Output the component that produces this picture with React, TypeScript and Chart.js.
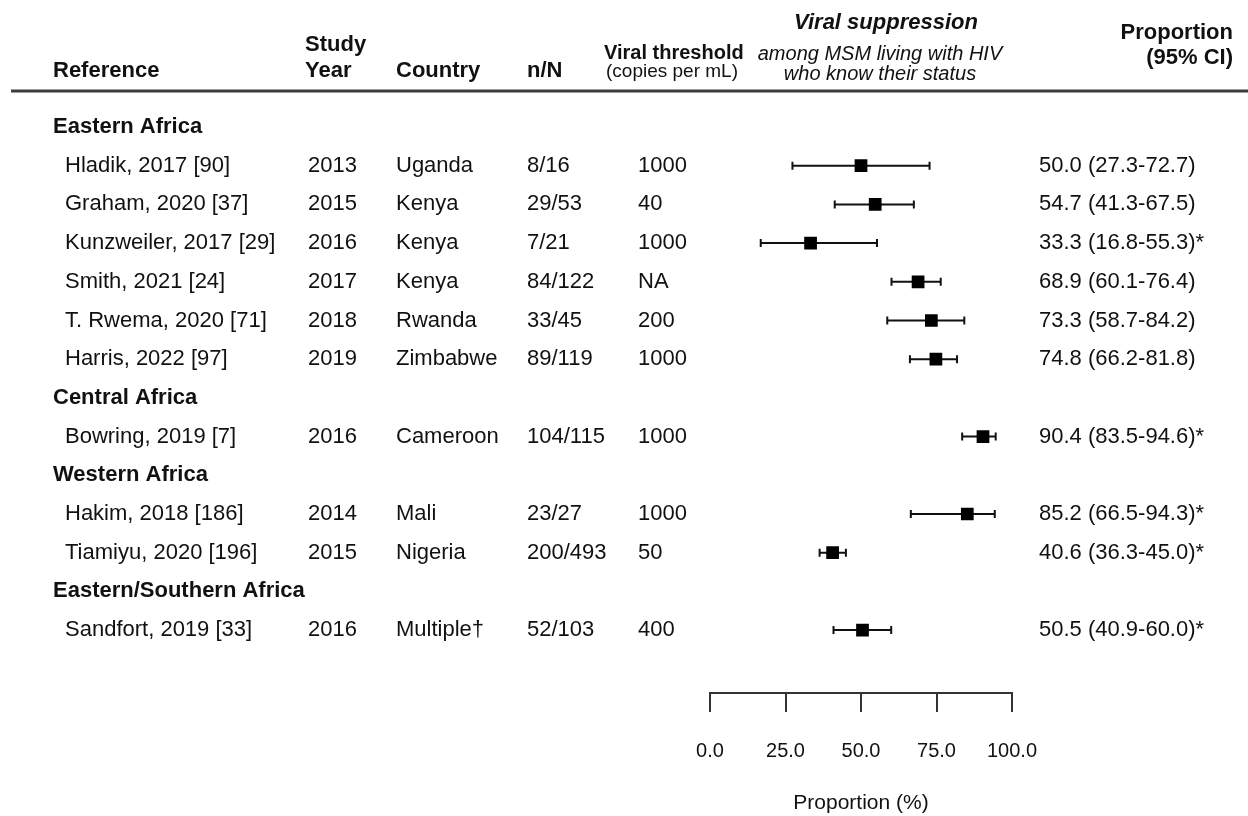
import React, { useEffect, useRef } from 'react';
import { Chart, registerables } from 'chart.js';

Chart.register(...registerables);

// ---- data ----
const groups = ['Eastern Africa', 'Central Africa', 'Western Africa', 'Eastern/Southern Africa'];
const studyGroups = [0, 0, 0, 0, 0, 0, 1, 2, 2, 3];
const references = [
  'Hladik, 2017 [90]',
  'Graham, 2020 [37]',
  'Kunzweiler, 2017 [29]',
  'Smith, 2021 [24]',
  'T. Rwema, 2020 [71]',
  'Harris, 2022 [97]',
  'Bowring, 2019 [7]',
  'Hakim, 2018 [186]',
  'Tiamiyu, 2020 [196]',
  'Sandfort, 2019 [33]',
];
const studyYears = ['2013', '2015', '2016', '2017', '2018', '2019', '2016', '2014', '2015', '2016'];
const countries = ['Uganda', 'Kenya', 'Kenya', 'Kenya', 'Rwanda', 'Zimbabwe', 'Cameroon', 'Mali', 'Nigeria', 'Multiple†'];
const nOverN = ['8/16', '29/53', '7/21', '84/122', '33/45', '89/119', '104/115', '23/27', '200/493', '52/103'];
const thresholds = ['1000', '40', '1000', 'NA', '200', '1000', '1000', '1000', '50', '400'];
const estimates = [50.0, 54.7, 33.3, 68.9, 73.3, 74.8, 90.4, 85.2, 40.6, 50.5];
const lower = [27.3, 41.3, 16.8, 60.1, 58.7, 66.2, 83.5, 66.5, 36.3, 40.9];
const upper = [72.7, 67.5, 55.3, 76.4, 84.2, 81.8, 94.6, 94.3, 45.0, 60.0];
const flags = ['', '', '*', '', '', '', '*', '*', '*', '*'];
const xTicks = [0, 25, 50, 75, 100];
const xTitle = 'Proportion (%)';

// ---- row layout (derived) ----
const rowOfGroup: number[] = [];
const rowOfStudy: number[] = [];
(() => {
  let r = 0;
  groups.forEach((_, gi) => {
    rowOfGroup[gi] = r++;
    studyGroups.forEach((sg, si) => {
      if (sg === gi) rowOfStudy[si] = r++;
    });
  });
})();

const FF = '"Liberation Sans", Arial, Helvetica, sans-serif';
const FS = 22;
const FS_SMALL = 19;
const FS_TICK = 20;
const FS_TITLE = 21;
const TEXT = '#111111';
const INK = '#111111';

const tablePlugin = {
  id: 'forestTable',
  afterDraw(chart: any) {
    const ctx: CanvasRenderingContext2D = chart.ctx;
    const ys = chart.scales.y;
    ctx.save();
    ctx.fillStyle = TEXT;
    ctx.textBaseline = 'middle';

    // header
    ctx.textAlign = 'left';
    ctx.font = `bold ${FS}px ${FF}`;
    ctx.fillText('Reference', 53, 71);
    ctx.fillText('Study', 305, 45);
    ctx.fillText('Year', 305, 71);
    ctx.fillText('Country', 396, 71);
    ctx.fillText('n/N', 527, 71);
    ctx.font = `bold 20px ${FF}`;
    ctx.fillText('Viral threshold', 604, 53);
    ctx.font = `${FS_SMALL}px ${FF}`;
    ctx.fillText('(copies per mL)', 606, 72);

    ctx.textAlign = 'center';
    ctx.font = `italic bold ${FS}px ${FF}`;
    ctx.fillText('Viral suppression', 886, 23);
    ctx.font = `italic 20px ${FF}`;
    ctx.fillText('among MSM living with HIV', 880, 54);
    ctx.fillText('who know their status', 880, 74);

    ctx.textAlign = 'right';
    ctx.font = `bold ${FS}px ${FF}`;
    ctx.fillText('Proportion', 1233, 33);
    ctx.fillText('(95% CI)', 1233, 58);

    // header rule
    ctx.strokeStyle = '#3c3c3c';
    ctx.lineWidth = 3;
    ctx.beginPath();
    ctx.moveTo(11, 91);
    ctx.lineTo(1248, 91);
    ctx.stroke();

    // group headers
    ctx.textAlign = 'left';
    ctx.font = `bold ${FS}px ${FF}`;
    groups.forEach((g, gi) => {
      ctx.fillText(g, 53, ys.getPixelForValue(rowOfGroup[gi]));
    });

    // study rows
    ctx.font = `${FS}px ${FF}`;
    references.forEach((ref, i) => {
      const y = ys.getPixelForValue(rowOfStudy[i]);
      ctx.fillText(ref, 65, y);
      ctx.fillText(studyYears[i], 308, y);
      ctx.fillText(countries[i], 396, y);
      ctx.fillText(nOverN[i], 527, y);
      ctx.fillText(thresholds[i], 638, y);
      ctx.fillText(
        `${estimates[i].toFixed(1)} (${lower[i].toFixed(1)}-${upper[i].toFixed(1)})${flags[i]}`,
        1039,
        y
      );
    });
    ctx.restore();
  },
};

export default function App() {
  const ref = useRef<HTMLCanvasElement | null>(null);

  useEffect(() => {
    document.body.style.margin = '0';
    const canvas = ref.current;
    if (!canvas) return;

    const ciDatasets = estimates.map((_, i) => ({
      type: 'line' as const,
      data: [
        { x: lower[i], y: rowOfStudy[i] },
        { x: upper[i], y: rowOfStudy[i] },
      ],
      showLine: true,
      borderColor: INK,
      borderWidth: 2,
      pointStyle: 'line' as const,
      rotation: 90,
      pointRadius: 4,
      pointBorderWidth: 2,
      pointBorderColor: INK,
      pointBackgroundColor: INK,
      order: 2,
    }));

    const pointDataset = {
      type: 'scatter' as const,
      data: estimates.map((v, i) => ({ x: v, y: rowOfStudy[i] })),
      pointStyle: 'rect' as const,
      pointRadius: 9,
      pointBorderWidth: 0,
      backgroundColor: '#000',
      borderColor: '#000',
      order: 0,
    };

    const chart = new Chart(canvas, {
      type: 'scatter',
      data: { datasets: [pointDataset as any, ...(ciDatasets as any[])] },
      options: {
        animation: false,
        responsive: false,
        devicePixelRatio: 1,
        events: [],
        layout: { padding: { left: 710, right: 236, top: 107.65, bottom: 0 } },
        plugins: { legend: { display: false }, tooltip: { enabled: false } },
        scales: {
          x: {
            type: 'linear',
            min: 0,
            max: 100,
            afterBuildTicks: (s: any) => {
              s.ticks = xTicks.map((v) => ({ value: v }));
            },
            border: { display: true, width: 2, color: '#333' },
            grid: {
              display: true,
              drawOnChartArea: false,
              drawTicks: true,
              tickLength: 19,
              tickWidth: 2,
              tickColor: '#333',
              color: '#333',
              lineWidth: 2,
            },
            ticks: {
              padding: 27.4,
              color: TEXT,
              font: { family: FF, size: FS_TICK },
              callback: (v: any) => Number(v).toFixed(1),
              maxRotation: 0,
              autoSkip: false,
            },
            title: {
              display: true,
              text: xTitle,
              color: TEXT,
              font: { family: FF, size: FS_TITLE },
              padding: { top: 0, bottom: 0 },
            },
          },
          y: {
            type: 'linear',
            display: false,
            reverse: true,
            min: -0.5,
            max: 14.625,
          },
        },
      },
      plugins: [tablePlugin],
    });
    return () => chart.destroy();
  }, []);

  return <canvas ref={ref} width={1248} height={816} style={{ display: 'block' }} />;
}
